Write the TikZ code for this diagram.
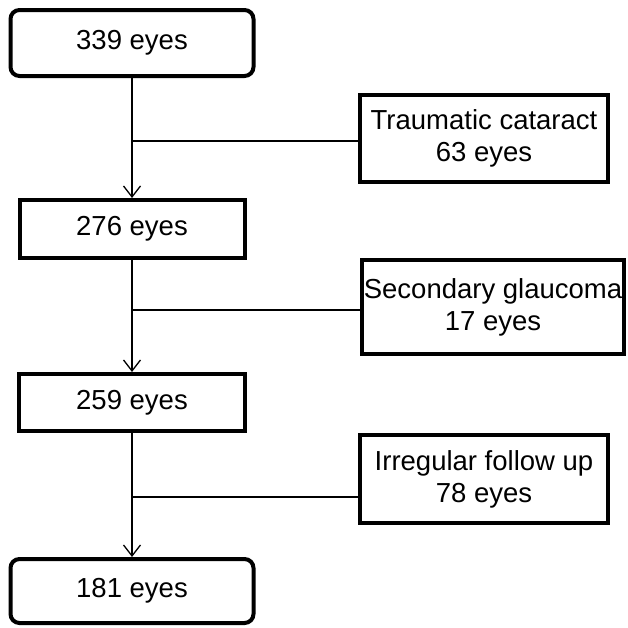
\documentclass[tikz,border=0pt]{standalone}
\usepackage{fontspec}
\setmainfont{Liberation Sans}
\usepackage{tikz}
\usetikzlibrary{arrows.meta}

\begin{document}
\begin{tikzpicture}[x=1pt,y=-1pt,
  font=\fontsize{27.5}{32}\selectfont,
  stage/.style={draw,line width=4pt,inner sep=0pt,align=center},
  roundstage/.style={stage,rounded corners=9pt},
  excl/.style={stage,align=center},
  flow/.style={line width=1.3pt,-{Straight Barb[length=11pt,width=17pt,line width=1.3pt]}},
  branch/.style={line width=1.3pt}]
\useasboundingbox (0,0) rectangle (628,627);

\draw (132,43) node[roundstage,minimum width=243pt,minimum height=66pt](339) {339 eyes} ;
\draw (132,229) node[stage,minimum width=225pt,minimum height=58pt](276) {276 eyes} ;
\draw (132,402.5) node[stage,minimum width=226pt,minimum height=57pt](259) {259 eyes} ;
\draw (132,591) node[roundstage,minimum width=243pt,minimum height=64pt](181) {181 eyes} ;

\draw (484,138.5) node[excl,minimum width=248pt,minimum height=87pt](63) {Traumatic cataract\\63 eyes} ;
\draw (493,307) node[excl,minimum width=262pt,minimum height=94pt](17) {Secondary glaucoma\\17 eyes} ;
\draw (484,479) node[excl,minimum width=248pt,minimum height=88pt](78) {Irregular follow up\\78 eyes} ;

\coordinate (b1) at (132,141);
\coordinate (b2) at (132,310);
\coordinate (b3) at (132,497);

\draw[flow] (339) -- (276);
\draw[flow] (276) -- (259);
\draw[flow] (259) -- (181);

\draw[branch] (b1) -- (b1 -| 63.west);
\draw[branch] (b2) -- (b2 -| 17.west);
\draw[branch] (b3) -- (b3 -| 78.west);
\end{tikzpicture}
\end{document}
